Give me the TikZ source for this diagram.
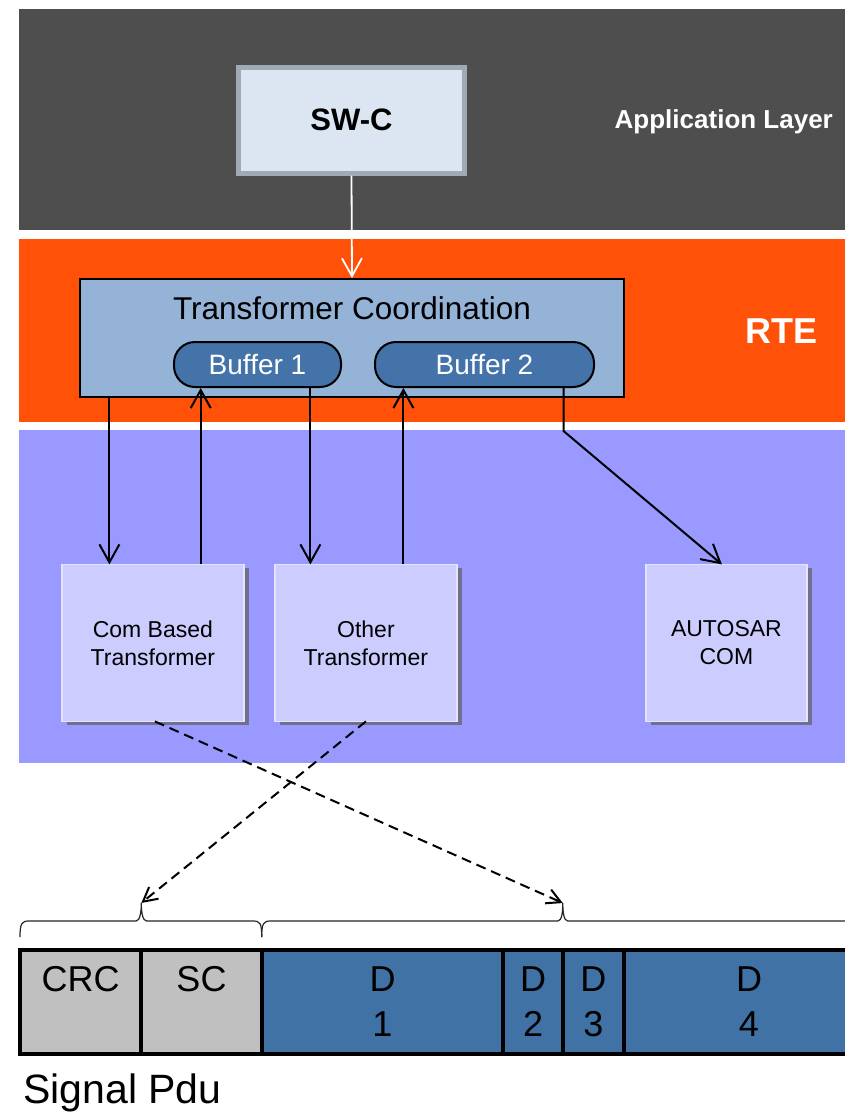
\documentclass[tikz,border=0pt]{standalone}
\usepackage{fontspec}
\setmainfont{Liberation Sans}
\usetikzlibrary{arrows.meta, positioning, shadows}

\definecolor{appgray}{RGB}{78,78,78}
\definecolor{rteorange}{RGB}{255,82,8}
\definecolor{bswblue}{RGB}{153,153,255}
\definecolor{swcfill}{RGB}{220,230,242}
\definecolor{swcedge}{RGB}{160,170,181}
\definecolor{coordfill}{RGB}{149,179,215}
\definecolor{bufblue}{RGB}{68,115,169}
\definecolor{trafill}{RGB}{204,204,255}
\definecolor{traedge}{RGB}{228,228,255}
\definecolor{trashadow}{RGB}{112,112,140}
\definecolor{pdugray}{RGB}{192,192,192}
\definecolor{pdublue}{RGB}{65,114,166}

\begin{document}
\begin{tikzpicture}[
    x=1pt, y=-1pt,
    band/.style={rectangle, anchor=north west, inner sep=0pt, outer sep=0pt, minimum width=840pt},
    layertxt/.style={text=white, inner sep=0pt, font=\bfseries\fontsize{26}{30}\selectfont},
    swcbox/.style={rectangle, draw=swcedge, line width=5pt, fill=swcfill, minimum width=226pt, minimum height=106pt, font=\bfseries\fontsize{31}{36}\selectfont},
    coordbox/.style={rectangle, draw, line width=2pt, fill=coordfill, minimum width=544pt, minimum height=118pt},
    bufbox/.style={rectangle, rounded corners=21pt, draw, line width=2pt, fill=bufblue, text=white, minimum height=45pt, font=\fontsize{28}{32}\selectfont},
    trabox/.style={rectangle, fill=trafill, draw=traedge, line width=1.5pt, outer sep=0pt, minimum width=182pt, minimum height=157pt, align=center, font=\fontsize{23}{28}\selectfont, drop shadow={shadow xshift=5pt, shadow yshift=-4pt, fill=trashadow, opacity=1}},
    cell/.style={rectangle, draw, line width=4pt, outer sep=0pt, inner sep=0pt, minimum height=104pt, align=center, font=\fontsize{36}{45}\selectfont},
    arr/.style={line width=2pt, -{Straight Barb[length=18pt, width=20pt]}},
    whitearr/.style={white, line width=1.8pt, -{Straight Barb[length=18pt, width=20pt]}},
    dasharr/.style={line width=2pt, dash pattern=on 10pt off 6pt, -{Straight Barb[length=14pt, width=15pt]}},
    brace/.style={line width=1.2pt, black!85}
]
\useasboundingbox (0,0) rectangle (845,1112);
\clip (0,0) rectangle (845,1112);

% Layers
\node[band, fill=appgray, minimum height=221pt] (app) at (19,9) {};
\node[band, fill=rteorange, minimum height=183pt] (rte) at (19,239) {};
\node[band, fill=bswblue, minimum height=333pt] (bsw) at (19,429.5) {};
\node[layertxt, anchor=base west] (applbl) at (614.5,128.3) {Application Layer};
\node[layertxt, anchor=base, font=\bfseries\fontsize{36}{40}\selectfont] (rtelbl) at (781.7,343.3) {RTE};

% SW-C and Transformer Coordination
\node[swcbox] (swc) at (351.5,120) {SW-C};
\node[coordbox, label={[anchor=center, yshift=-30pt, font=\fontsize{31.5}{36}\selectfont]north:Transformer Coordination}] (tc) at (352,338) {};
\node[bufbox, minimum width=167pt] (buf1) at (257.5,364.5) {Buffer 1};
\node[bufbox, minimum width=219pt] (buf2) at (484.5,364.5) {Buffer 2};

% Transformers
\node[trabox] (comT) at (152.9,642.9) {Com Based\\Transformer};
\node[trabox, right=31pt of comT] (othT) {Other\\Transformer};
\node[trabox, minimum width=161pt] (ascom) at (726.4,642.9) {AUTOSAR\\COM};

% Connectors
\coordinate (cbIn) at ([xshift=-43.5pt]comT.north);
\coordinate (cbOut) at ([xshift=47.8pt]comT.north);
\coordinate (otIn) at ([xshift=-55.5pt]othT.north);
\coordinate (otOut) at ([xshift=37.5pt]othT.north);
\draw[whitearr] (swc.south) -- (tc.north);
\draw[arr] (tc.south -| cbIn) -- (cbIn);
\draw[arr] (cbOut) -- (buf1.south -| cbOut);
\draw[arr] (buf1.south -| otIn) -- (otIn);
\draw[arr] (otOut) -- (buf2.south -| otOut);
\draw[arr] ([xshift=79pt]buf2.south) -- ++(0,43) -- ([xshift=-4.5pt]ascom.north);

% Signal Pdu
\node[cell, fill=pdugray, minimum width=121.3pt] (crc) at (80.65,1001.7) {CRC\\\mbox{}};
\node[cell, fill=pdugray, minimum width=120.4pt, right=0pt of crc] (sc) {SC\\\mbox{}};
\node[cell, fill=pdublue, minimum width=241.6pt, right=0pt of sc] (d1) {D\\1};
\node[cell, fill=pdublue, minimum width=59.5pt, right=0pt of d1] (d2) {D\\2};
\node[cell, fill=pdublue, minimum width=61.2pt, right=0pt of d2] (d3) {D\\3};
\node[cell, fill=pdublue, minimum width=250pt, right=0pt of d3] (d4) {D\\4};
\node[anchor=base west, inner sep=0pt, font=\fontsize{41}{48}\selectfont] (pdulbl) at (23,1103) {Signal Pdu};

% Braces
\coordinate (tipA) at (141.3,903);
\coordinate (tipB) at (562.8,903);
\draw[brace] (20,937) .. controls (20,923) and (22,921) .. (29,921) -- (136,921)
  .. controls (140,921) and (141.3,912) .. (tipA) .. controls (141.3,912) and (142.6,921) .. (146.6,921)
  -- (253,921) .. controls (260,921) and (261.7,923) .. (261.7,937);
\draw[brace] (261.7,937) .. controls (261.7,923) and (263.7,921) .. (270.7,921) -- (557.8,921)
  .. controls (561.8,921) and (562.8,912) .. (tipB) .. controls (562.8,912) and (563.8,921) .. (567.8,921)
  -- (870,921);

\draw[dasharr] ([xshift=2pt]comT.south) -- (tipB);
\draw[dasharr] (othT.south) -- (tipA);
\end{tikzpicture}
\end{document}
